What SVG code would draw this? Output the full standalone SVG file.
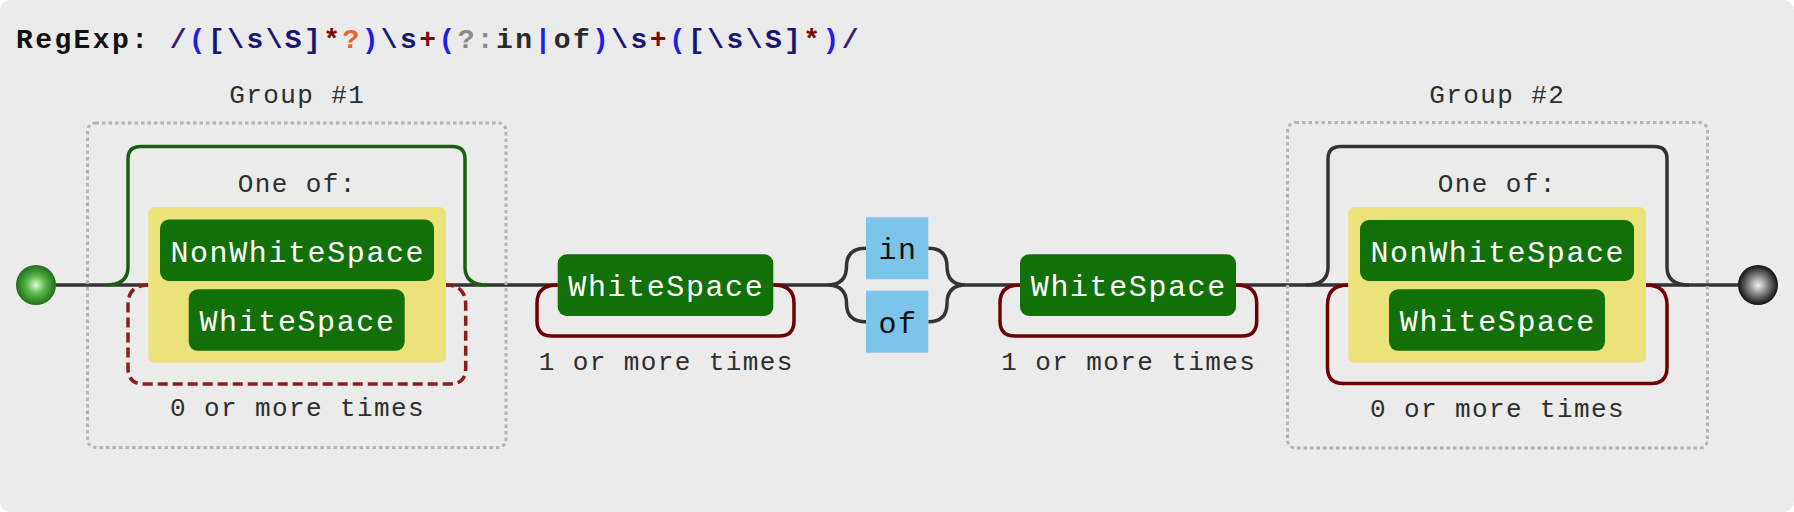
<svg xmlns="http://www.w3.org/2000/svg" width="1794" height="512" viewBox="0 0 1794 512">
  <defs>
    <radialGradient id="gStart" cx="50%" cy="50%" r="50%">
      <stop offset="0" stop-color="#e4f8dc"/>
      <stop offset="0.45" stop-color="#5cb84c"/>
      <stop offset="1" stop-color="#1f6e18"/>
    </radialGradient>
    <radialGradient id="gEnd" cx="50%" cy="50%" r="50%">
      <stop offset="0" stop-color="#f2f2f2"/>
      <stop offset="0.45" stop-color="#8a8a8a"/>
      <stop offset="1" stop-color="#111"/>
    </radialGradient>
    <style>
      .bg { fill: #ebebeb; }
      .desc { font-family: "Liberation Mono", "Courier New", monospace; font-size: 26px; letter-spacing: 1.4px; fill: #2e2e2e; text-anchor: middle; }
      .lbl { font-family: "Liberation Mono", "Courier New", monospace; font-size: 30px; letter-spacing: 1.6px; fill: #fff; text-anchor: middle; }
      .lit { font-family: "Liberation Mono", "Courier New", monospace; font-size: 30px; letter-spacing: 1.6px; fill: #111; text-anchor: middle; }
      .title { font-family: "Liberation Mono", "Courier New", monospace; font-size: 28px; font-weight: bold; letter-spacing: 2.4px; fill: #111; }
      .node { fill: #127008; }
      .lits { fill: #7cc4ea; }
      .yel { fill: #ebe27a; }
      .grp { fill: none; stroke: #b4b4b4; stroke-width: 3; stroke-dasharray: 3.5 3; }
      .line { fill: none; stroke: #333; stroke-width: 3.5; }
      .skipg { fill: none; stroke: #18600f; stroke-width: 3.5; }
      .loop { fill: none; stroke: #6e0000; stroke-width: 3.5; }
      .loopd { fill: none; stroke: #8c1c1c; stroke-width: 3.5; stroke-dasharray: 10 5; }
      .sl { fill: #3c1e78; } .par { fill: #1e1ee8; } .cls { fill: #181870; } .rep { fill: #7a0a0a; } .lazy { fill: #f06030; } .nc { fill: #8a8a8a; } .chr { fill: #2a2a2a; }
    </style>
  </defs>
  <rect x="0" y="0" width="1794" height="512" fill="#fff"/>
  <rect class="bg" x="0" y="0" width="1794" height="512" rx="10"/>

  <g id="title">
    <text class="title" x="16" y="48">RegExp: <tspan class="sl">/</tspan><tspan class="par">(</tspan><tspan class="cls">[\s\S]</tspan><tspan class="rep">*</tspan><tspan class="lazy">?</tspan><tspan class="par">)</tspan><tspan class="cls">\s</tspan><tspan class="rep">+</tspan><tspan class="par">(</tspan><tspan class="nc">?:</tspan><tspan class="chr">in</tspan><tspan class="par">|</tspan><tspan class="chr">of</tspan><tspan class="par">)</tspan><tspan class="cls">\s</tspan><tspan class="rep">+</tspan><tspan class="par">(</tspan><tspan class="cls">[\s\S]</tspan><tspan class="rep">*</tspan><tspan class="par">)</tspan><tspan class="sl">/</tspan></text>
  </g>

  <g id="connectors">
    <path class="line" d="M56,285 H148.3 M446,285 H557.7 M773.3,285 H827 M966,285 H1020 M1236,285 H1348.3 M1646,285 H1738"/>
    <path class="line" d="M827,285 Q846.5,285 846.5,266.5 Q846.5,248.3 866,248.3 M827,285 Q846.5,285 846.5,303.5 Q846.5,321.7 866,321.7"/>
    <path class="line" d="M928.3,248.3 Q947,248.3 947,266.5 Q947,285 966,285 M928.3,321.7 Q947,321.7 947,303.5 Q947,285 966,285"/>
    <path class="skipg" d="M106,285 Q128,285 128,267 V159 Q128,146.5 140.5,146.5 H452.5 Q465,146.5 465,159 V267 Q465,285 487,285"/>
    <path class="loopd" d="M148.3,285 Q128,285 128,305 V368 Q128,384 144,384 H450 Q465.7,384 465.7,368 V305 Q465.7,285 446,285"/>
    <path class="loop" d="M557.7,285 Q537,285 537,303 V321 Q537,336 552,336 H779 Q794,336 794,321 V303 Q794,285 773.3,285"/>
    <path class="loop" d="M1020,285 Q1000,285 1000,303 V321 Q1000,336 1015,336 H1241.7 Q1256.7,336 1256.7,321 V303 Q1256.7,285 1236,285"/>
    <path class="line" d="M1306,285 Q1328,285 1328,267 V159 Q1328,146.5 1340.5,146.5 H1654.5 Q1667,146.5 1667,159 V267 Q1667,285 1689,285"/>
    <path class="loop" d="M1348.3,285 Q1327.5,285 1327.5,305 V367.5 Q1327.5,383.5 1343.5,383.5 H1651 Q1667,383.5 1667,367.5 V305 Q1667,285 1646,285"/>
  </g>

  <g id="start"><circle cx="36" cy="285" r="20" fill="url(#gStart)"/></g>

  <g id="group1">
    <rect class="grp" x="87.5" y="123" width="418.5" height="324.5" rx="8"/>
    <text class="desc" x="297.2" y="102.5">Group #1</text>
    <text class="desc" x="297.2" y="192">One of:</text>
    <rect class="yel" x="148.3" y="207.3" width="297.7" height="155.4" rx="6"/>
    <g id="g1-nonws">
      <rect class="node" x="160" y="219.5" width="274" height="61.5" rx="9"/>
      <text class="lbl" x="297.8" y="261.5">NonWhiteSpace</text>
    </g>
    <g id="g1-ws">
      <rect class="node" x="188.7" y="289.3" width="216" height="61.5" rx="9"/>
      <text class="lbl" x="297.5" y="331">WhiteSpace</text>
    </g>
    <text class="desc" x="297.4" y="416.3">0 or more times</text>
  </g>

  <g id="ws1">
    <rect class="node" x="557.7" y="254.3" width="215.6" height="61.7" rx="9"/>
    <text class="lbl" x="666.3" y="296">WhiteSpace</text>
    <text class="desc" x="666.2" y="370">1 or more times</text>
  </g>

  <g id="lit-in">
    <rect class="lits" x="866" y="217.3" width="62.3" height="62"/>
    <text class="lit" x="898" y="259.3">in</text>
  </g>
  <g id="lit-of">
    <rect class="lits" x="866" y="290.7" width="62.3" height="62"/>
    <text class="lit" x="898" y="332.7">of</text>
  </g>

  <g id="ws2">
    <rect class="node" x="1020" y="254.3" width="216" height="61.7" rx="9"/>
    <text class="lbl" x="1128.8" y="296">WhiteSpace</text>
    <text class="desc" x="1128.7" y="370">1 or more times</text>
  </g>

  <g id="group2">
    <rect class="grp" x="1287.5" y="122.5" width="420" height="325.5" rx="8"/>
    <text class="desc" x="1497.2" y="103">Group #2</text>
    <text class="desc" x="1497.2" y="192">One of:</text>
    <rect class="yel" x="1348.3" y="207.3" width="297.7" height="155.4" rx="6"/>
    <g id="g2-nonws">
      <rect class="node" x="1360" y="220" width="274" height="61" rx="9"/>
      <text class="lbl" x="1497.8" y="261.5">NonWhiteSpace</text>
    </g>
    <g id="g2-ws">
      <rect class="node" x="1389" y="289.3" width="216" height="61.5" rx="9"/>
      <text class="lbl" x="1497.8" y="331">WhiteSpace</text>
    </g>
    <text class="desc" x="1497.6" y="416.7">0 or more times</text>
  </g>

  <g id="end"><circle cx="1758" cy="285" r="20" fill="url(#gEnd)"/></g>
</svg>
